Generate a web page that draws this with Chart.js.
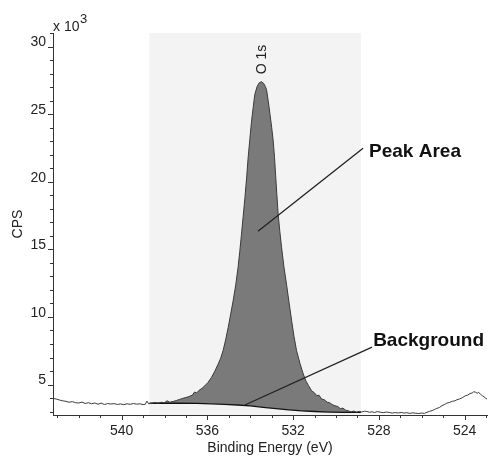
<!DOCTYPE html>
<html>
<head>
<meta charset="utf-8">
<script src="https://cdn.jsdelivr.net/npm/chart.js@4.4.1/dist/chart.umd.min.js"></script>
<style>
  html, body { margin: 0; padding: 0; background: #fff; }
  #wrap { width: 490px; height: 457px; }
</style>
</head>
<body>
<div id="wrap"><canvas id="xps_o1s" width="490" height="457"></canvas></div>
<script>
// binding energy (eV)
let energy = [
  543.20, 543.05, 542.90, 542.75, 542.60, 542.45, 542.30, 542.15, 542.00, 541.85,
  541.70, 541.55, 541.40, 541.25, 541.10, 540.95, 540.80, 540.65, 540.50, 540.35,
  540.20, 540.05, 539.90, 539.75, 539.60, 539.45, 539.30, 539.15, 539.00, 538.90,
  538.82, 538.74, 538.60, 538.45, 538.30, 538.15, 538.00, 537.88, 537.76, 537.60,
  537.45, 537.30, 537.15, 537.00, 536.85, 536.70, 536.60, 536.50, 536.40, 536.25,
  536.12, 535.97, 535.81, 535.65, 535.50, 535.38, 535.27, 535.15, 535.03, 534.92,
  534.80, 534.68, 534.57, 534.49, 534.41, 534.33, 534.25, 534.17, 534.10, 534.02,
  533.94, 533.86, 533.79, 533.68, 533.58, 533.48, 533.38, 533.30, 533.24, 533.16,
  533.08, 533.00, 532.93, 532.87, 532.82, 532.76, 532.70, 532.62, 532.54, 532.43,
  532.31, 532.19, 532.07, 531.96, 531.84, 531.68, 531.53, 531.40, 531.28, 531.14,
  531.00, 530.90, 530.80, 530.67, 530.55, 530.42, 530.30, 530.18, 530.05, 529.92,
  529.80, 529.68, 529.55, 529.43, 529.30, 529.18, 529.05, 528.92, 528.80, 528.68,
  528.56, 528.44, 528.32, 528.20, 528.08, 527.94, 527.80, 527.66, 527.52, 527.38,
  527.24, 527.10, 526.96, 526.82, 526.70, 526.56, 526.42, 526.28, 526.14, 526.00,
  525.88, 525.76, 525.64, 525.52, 525.40, 525.30, 525.18, 525.06, 524.95, 524.83,
  524.70, 524.58, 524.46, 524.36, 524.24, 524.12, 523.97, 523.86, 523.75, 523.65,
  523.58, 523.50, 523.42, 523.35, 523.27, 523.18, 523.10, 523.02, 522.96
];
// counts, x 10^3 CPS
let cps = [
  3.98, 3.93, 3.86, 3.80, 3.76, 3.69, 3.74, 3.66, 3.64, 3.70,
  3.60, 3.66, 3.58, 3.64, 3.55, 3.63, 3.52, 3.60, 3.56, 3.59,
  3.53, 3.57, 3.51, 3.58, 3.54, 3.60, 3.55, 3.58, 3.52, 3.54,
  3.78, 3.58, 3.62, 3.67, 3.63, 3.69, 3.66, 3.80, 3.70, 3.75,
  3.82, 3.90, 3.98, 4.04, 4.12, 4.22, 4.45, 4.38, 4.56, 4.72,
  4.91, 5.16, 5.53, 6.00, 6.51, 6.95, 7.50, 8.30, 9.22, 10.15,
  11.19, 12.35, 13.65, 14.85, 16.11, 17.45, 18.82, 20.30, 21.78, 23.15,
  24.48, 25.55, 26.45, 27.05, 27.32, 27.40, 27.28, 27.05, 26.80, 25.95,
  24.98, 24.00, 23.01, 21.80, 20.55, 19.05, 17.59, 16.30, 15.13, 13.70,
  12.42, 11.05, 9.71, 8.55, 7.50, 6.55, 5.78, 5.25, 4.92, 4.54,
  4.38, 4.18, 4.22, 3.93, 3.88, 3.70, 3.66, 3.52, 3.43, 3.38,
  3.22, 3.26, 3.10, 3.06, 2.98, 3.04, 2.96, 3.02, 2.97, 3.03,
  3.01, 2.95, 2.99, 2.93, 3.00, 2.96, 2.92, 2.97, 2.94, 2.89,
  2.93, 2.90, 2.94, 2.89, 2.92, 2.87, 2.91, 2.88, 2.86, 2.90,
  2.87, 2.95, 3.02, 3.08, 3.16, 3.24, 3.30, 3.44, 3.52, 3.63,
  3.68, 3.76, 3.80, 3.88, 3.94, 4.02, 4.17, 4.22, 4.34, 4.38,
  4.47, 4.44, 4.36, 4.42, 4.30, 4.18, 4.10, 3.98, 3.93
];
// background under the peak
let bgEnergy = [538.70, 537.50, 536.50, 535.80, 535.20, 534.60, 534.00, 533.40, 532.80, 532.20, 531.60, 531.00, 530.30, 529.60, 528.84];
let bgCps = [3.62, 3.62, 3.61, 3.58, 3.54, 3.49, 3.42, 3.32, 3.22, 3.13, 3.06, 3.01, 2.97, 2.95, 2.94];

let xLabels = [540, 536, 532, 528, 524];
let yLabels = [5, 10, 15, 20, 25, 30];
let regionStart = 538.7, regionEnd = 528.84;

let axisColor = '#333';
let fontFamily = '"Liberation Sans", Arial, sans-serif';
Chart.defaults.font.family = fontFamily;
Chart.defaults.color = '#222';

let spectrum = energy.map((e, i) => ({x: e, y: cps[i]}));
let background = bgEnergy.map((e, i) => ({x: e, y: bgCps[i]}));
let peak = spectrum.filter(p => p.x <= regionStart && p.x >= regionEnd);

let extras = {
  id: 'extras',
  beforeDraw(chart) {
    let ctx = chart.ctx, x = chart.scales.x, area = chart.chartArea;
    let x1 = x.getPixelForValue(regionStart), x2 = x.getPixelForValue(regionEnd);
    ctx.save();
    ctx.fillStyle = '#f3f3f3';
    ctx.fillRect(x1, area.top, x2 - x1, area.bottom - area.top);
    ctx.restore();
  },
  afterDraw(chart) {
    let ctx = chart.ctx, x = chart.scales.x, y = chart.scales.y;
    ctx.save();
    ctx.strokeStyle = axisColor;
    ctx.lineWidth = 1;
    ctx.beginPath();
    x.ticks.forEach(t => {
      let px = Math.round(x.getPixelForValue(t.value)) + 0.5;
      ctx.moveTo(px, x.top);
      ctx.lineTo(px, x.top + (xLabels.includes(t.value) ? 5 : 3));
    });
    y.ticks.forEach(t => {
      let py = Math.round(y.getPixelForValue(t.value)) + 0.5;
      ctx.moveTo(y.right, py);
      ctx.lineTo(y.right - (yLabels.includes(t.value) ? 5 : 3), py);
    });
    ctx.stroke();

    // leader lines
    ctx.strokeStyle = '#222';
    ctx.lineWidth = 1.3;
    ctx.beginPath();
    ctx.moveTo(x.getPixelForValue(528.74), y.getPixelForValue(22.47));
    ctx.lineTo(x.getPixelForValue(533.64), y.getPixelForValue(16.34));
    ctx.moveTo(x.getPixelForValue(528.32), y.getPixelForValue(7.77));
    ctx.lineTo(x.getPixelForValue(534.25), y.getPixelForValue(3.49));
    ctx.stroke();

    ctx.fillStyle = '#111';
    ctx.textBaseline = 'middle';
    ctx.textAlign = 'left';
    ctx.font = 'bold 19px ' + fontFamily;
    ctx.fillText('Peak Area', x.getPixelForValue(528.46), y.getPixelForValue(22.25));
    ctx.fillText('Background', x.getPixelForValue(528.27), y.getPixelForValue(8.21));

    // peak name, rotated
    ctx.font = '14px ' + fontFamily;
    ctx.fillStyle = '#222';
    ctx.translate(x.getPixelForValue(533.46), y.getPixelForValue(29.04));
    ctx.rotate(-Math.PI / 2);
    ctx.textAlign = 'center';
    ctx.fillText('O 1s', 0, 0);
    ctx.restore();

    // multiplier of the y axis
    ctx.save();
    ctx.fillStyle = '#222';
    ctx.textBaseline = 'alphabetic';
    ctx.font = '14px ' + fontFamily;
    ctx.fillText('x 10', y.right, 31);
    ctx.font = '13px ' + fontFamily;
    ctx.fillText('3', y.right + 27, 23);
    ctx.restore();
  }
};

let chart = new Chart(document.getElementById('xps_o1s').getContext('2d'), {
  type: 'line',
  data: {
    datasets: [
      {
        data: spectrum,
        borderColor: '#3a3a3a',
        borderWidth: 1,
        pointRadius: 0,
        fill: false
      },
      {
        data: background,
        borderColor: '#111',
        borderWidth: 1.3,
        pointRadius: 0,
        fill: false
      },
      {
        data: peak,
        borderWidth: 0,
        borderColor: 'rgba(0,0,0,0)',
        pointRadius: 0,
        fill: {target: 1, above: '#7a7a7a', below: 'rgba(0,0,0,0)'}
      }
    ]
  },
  options: {
    responsive: false,
    animation: false,
    layout: { padding: { top: 33, right: 3, left: 0, bottom: 0 } },
    plugins: {
      legend: { display: false },
      tooltip: { enabled: false }
    },
    scales: {
      x: {
        type: 'linear',
        reverse: true,
        min: 522.96,
        max: 543.2,
        afterFit: (scale) => { scale.height = 42; },
        afterBuildTicks: (scale) => {
          let t = [];
          for (let v = 523; v <= 543; v++) t.push({value: v});
          scale.ticks = t;
        },
        grid: { display: false, drawTicks: false },
        border: { color: axisColor, width: 1 },
        ticks: {
          autoSkip: false,
          maxRotation: 0,
          padding: 8,
          font: { size: 14 },
          color: '#222',
          callback: (v) => xLabels.includes(v) ? String(v) : ''
        },
        title: {
          display: true,
          text: 'Binding Energy (eV)',
          font: { size: 14 },
          color: '#222',
          padding: 0
        }
      },
      y: {
        min: 2.75,
        max: 31.0,
        afterFit: (scale) => { scale.width = 53; },
        afterBuildTicks: (scale) => {
          let t = [];
          for (let v = 3; v <= 31; v++) t.push({value: v});
          scale.ticks = t;
        },
        grid: { display: false, drawTicks: false },
        border: { color: axisColor, width: 1 },
        ticks: {
          autoSkip: false,
          padding: 7,
          labelOffset: -4,
          font: { size: 14 },
          color: '#222',
          callback: (v) => yLabels.includes(v) ? String(v) : ''
        },
        title: {
          display: true,
          text: 'CPS',
          font: { size: 14 },
          color: '#222',
          padding: { top: 10 }
        }
      }
    }
  },
  plugins: [extras]
});
</script>
</body>
</html>
